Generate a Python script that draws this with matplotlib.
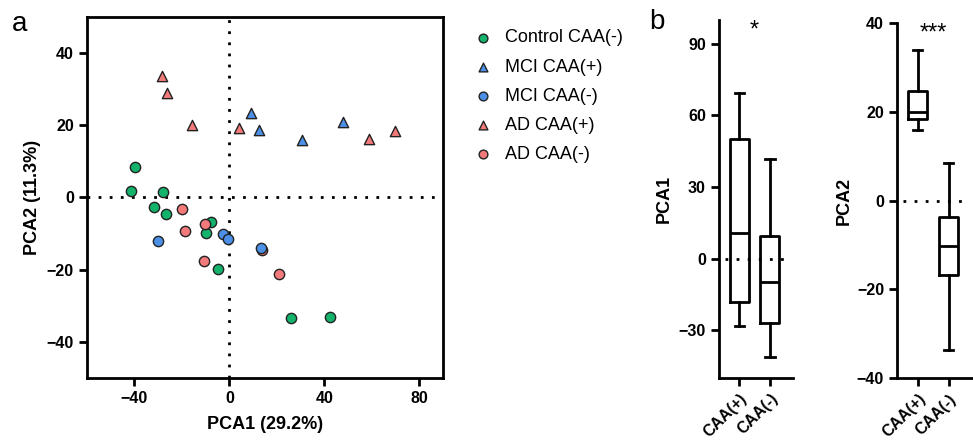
import numpy as np
import matplotlib
matplotlib.use("Agg")
import matplotlib.pyplot as plt

plt.rcParams['font.family'] = ['Liberation Sans', 'DejaVu Sans']

# PCA scores
ctrl_x = [-39.9, -41.5, -28.1, -31.6, -26.9, -7.8, -9.9, -4.6, 26.0, 42.4]
ctrl_y = [8.4, 1.7, 1.6, -2.5, -4.5, -6.8, -9.7, -19.7, -33.3, -33.2]
mci_pos_x = [9.2, 12.3, 30.6, 47.7]
mci_pos_y = [23.4, 18.6, 15.8, 20.8]
mci_neg_x = [-2.7, -0.6, -30.1, 13.4]
mci_neg_y = [-10.2, -11.5, -12.0, -14.0]
ad_pos_x = [-28.3, -26.2, -15.7, 4.0, 58.7, 69.8]
ad_pos_y = [33.6, 29.0, 20.2, 19.3, 16.3, 18.3]
ad_neg_x = [-20.1, -10.4, -18.8, 13.9, -10.8, 21.1]
ad_neg_y = [-3.1, -7.3, -9.4, -14.6, -17.5, -21.2]

# box plot summaries (CAA(+), CAA(-))
groups = ['CAA(+)', 'CAA(-)']
pc1_lo = [-28.3, -41.3]
pc1_q1 = [-18.0, -27.1]
pc1_med = [10.7, -9.8]
pc1_q3 = [50.0, 9.5]
pc1_hi = [69.3, 41.9]
pc2_lo = [15.9, -33.6]
pc2_q1 = [18.3, -16.7]
pc2_med = [20.0, -10.2]
pc2_q3 = [24.7, -3.8]
pc2_hi = [33.9, 8.4]

green = '#13b36b'
blue = '#4b8fe6'
red = '#f27a7a'

fig = plt.figure(figsize=(9.73, 4.4), dpi=100)

# ---- panel a ----
ax = fig.add_axes([0.0894, 0.1409, 0.3659, 0.8205])
kw = dict(s=55, edgecolors='#222222', linewidths=1.0, zorder=3)
ax.scatter(ctrl_x, ctrl_y, c=green, marker='o', label='Control CAA(-)', **kw)
ax.scatter(mci_pos_x, mci_pos_y, c=blue, marker='^', label='MCI CAA(+)', **kw)
ax.scatter(ad_neg_x, ad_neg_y, c=red, marker='o', **kw)
ax.scatter(mci_neg_x, mci_neg_y, c=blue, marker='o', label='MCI CAA(-)', **kw)
ax.scatter(ad_pos_x, ad_pos_y, c=red, marker='^', label='AD CAA(+)', **kw)
ax.scatter([], [], c=red, marker='o', label='AD CAA(-)', **kw)
ax.axhline(0, color='black', linestyle=(0, (1, 3)), linewidth=2, zorder=1)
ax.axvline(0, color='black', linestyle=(0, (1, 3)), linewidth=2, zorder=1)
ax.set_xlim(-60, 90)
ax.set_ylim(-50, 50)
ax.set_xticks([-40, 0, 40, 80])
ax.set_yticks([-40, -20, 0, 20, 40])
for s in ax.spines.values():
    s.set_linewidth(2)
ax.tick_params(direction='out', length=6, width=2, labelsize=11.5)
for t in ax.get_xticklabels() + ax.get_yticklabels():
    t.set_fontweight('bold')
ax.set_xlabel('PCA1 (29.2%)', fontsize=13, fontweight='bold', labelpad=7)
ax.set_ylabel('PCA2 (11.3%)', fontsize=13, fontweight='bold', labelpad=4)

h, l = ax.get_legend_handles_labels()
order = ['Control CAA(-)', 'MCI CAA(+)', 'MCI CAA(-)', 'AD CAA(+)', 'AD CAA(-)']
hh = [h[l.index(n)] for n in order]
leg = fig.legend(hh, order, loc='upper left', bbox_to_anchor=(0.469, 0.97),
                 frameon=False, fontsize=13, handletextpad=0.6,
                 labelspacing=0.67, markerscale=0.85, handlelength=1.2)

fig.text(0.012, 0.93, 'a', fontsize=20)
fig.text(0.667, 0.935, 'b', fontsize=20)


def box_panel(rect, lo, q1, med, q3, hi, ylim, yticks, ylabel, star, ypad):
    bx = fig.add_axes(rect)
    stats = []
    for i in range(len(groups)):
        stats.append(dict(whislo=lo[i], q1=q1[i], med=med[i], q3=q3[i],
                          whishi=hi[i], label=groups[i]))
    lw = 2
    bx.bxp(stats, positions=[1, 2], widths=0.62, showfliers=False,
           boxprops=dict(linewidth=lw), whiskerprops=dict(linewidth=lw),
           capprops=dict(linewidth=lw), medianprops=dict(color='black', linewidth=lw),
           capwidths=0.3)
    bx.axhline(0, xmin=0.08, xmax=0.96, color='black', linestyle=(0, (1, 3)),
               linewidth=2, zorder=0)
    bx.set_xlim(0.34, 2.75)
    bx.set_ylim(*ylim)
    bx.set_yticks(yticks)
    bx.spines['top'].set_visible(False)
    bx.spines['right'].set_visible(False)
    bx.spines['left'].set_linewidth(2)
    bx.spines['bottom'].set_linewidth(2)
    bx.tick_params(direction='out', length=6, width=2, labelsize=11.5)
    bx.set_xticklabels(groups, rotation=45, ha='right', rotation_mode='anchor',
                       fontsize=11.5, fontweight='bold')
    for t in bx.get_yticklabels():
        t.set_fontweight('bold')
    bx.set_ylabel(ylabel, fontsize=13, fontweight='bold', labelpad=ypad)
    bx.text(1.5, ylim[1], star, ha='center', va='top', fontsize=17)
    return bx


box_panel([0.739, 0.1409, 0.076, 0.8136], pc1_lo, pc1_q1, pc1_med, pc1_q3, pc1_hi,
          (-50, 100), [-30, 0, 30, 60, 90], 'PCA1', '*', 4)
box_panel([0.9222, 0.1402, 0.0765, 0.8082], pc2_lo, pc2_q1, pc2_med, pc2_q3, pc2_hi,
          (-40, 40), [-40, -20, 0, 20, 40], 'PCA2', '***', 3)

fig.savefig('out.png', dpi=100)
